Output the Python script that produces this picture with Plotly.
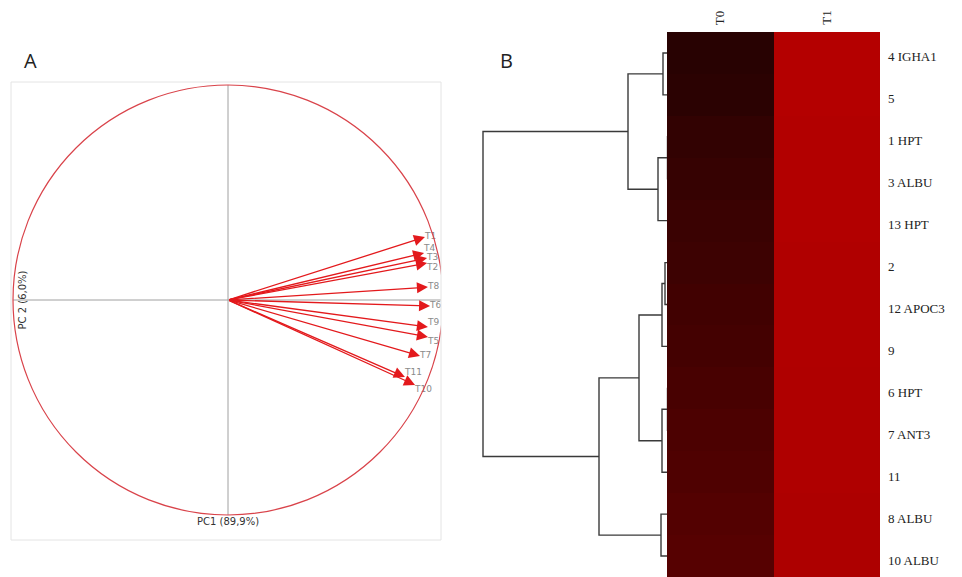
import plotly.graph_objects as go

# ---------------- Panel A data (PCA correlation circle) ----------------
var_names = ["T1", "T4", "T3", "T2", "T8", "T6", "T9", "T5", "T7", "T11", "T10"]
pc1_load = [0.916, 0.912, 0.926, 0.926, 0.930, 0.940, 0.930, 0.930, 0.893, 0.823, 0.870]
pc2_load = [0.293, 0.219, 0.195, 0.172, 0.060, -0.028, -0.126, -0.172, -0.260, -0.358, -0.395]
label_pos = ["middle right", "top right", "middle right", "bottom right", "middle right",
             "middle right", "top right", "bottom right", "middle right", "top right", "bottom right"]
pc1_label = "PC1 (89,9%)"
pc2_label = "PC 2 (6,0%)"

# ---------------- Panel B data (heatmap + dendrogram) ----------------
row_labels = ["4 IGHA1", "5", "1 HPT", "3 ALBU", "13 HPT", "2", "12 APOC3", "9",
              "6 HPT", "7 ANT3", "11", "8 ALBU", "10 ALBU"]
col_labels = ["T0", "T1"]
t0_values = [0.12, 0.14, 0.18, 0.20, 0.22, 0.24, 0.26, 0.28, 0.30, 0.32, 0.34, 0.36, 0.38]
t1_values = [0.90, 0.90, 0.89, 0.89, 0.89, 0.88, 0.88, 0.88, 0.87, 0.87, 0.87, 0.86, 0.86]
# linkage: (left node, right node, merge height); leaves are 0..12, new nodes 13..
linkage = [(0, 1, 5), (2, 3, 0.5), (14, 4, 10), (13, 15, 40),
           (5, 6, 3), (17, 7, 6), (8, 9, 0.5), (19, 10, 6), (18, 20, 29),
           (11, 12, 7), (21, 22, 69), (16, 23, 185)]

W, H = 962, 577
def px(x): return x / W
def py(y): return 1 - y / H

fig = go.Figure()

# ---- Panel A ----
R = 215.0
for i, name in enumerate(var_names):
    fig.add_annotation(x=pc1_load[i], y=pc2_load[i], ax=0, ay=0, xref="x", yref="y",
                       axref="x", ayref="y", text="", showarrow=True,
                       arrowhead=2, arrowsize=1.7, arrowwidth=1.3, arrowcolor="#e3191c")
fig.add_trace(go.Scatter(x=pc1_load, y=pc2_load, mode="text", text=var_names,
                         textposition=label_pos,
                         textfont=dict(size=9, color="#8a8a8a", family="DejaVu Sans"),
                         xaxis="x", yaxis="y", hoverinfo="skip", showlegend=False))
# axes through origin
fig.add_shape(type="line", x0=-1, x1=1, y0=0, y1=0, xref="x", yref="y",
              line=dict(color="#a0a0a0", width=1))
fig.add_shape(type="line", x0=0, x1=0, y0=-1, y1=1, xref="x", yref="y",
              line=dict(color="#a0a0a0", width=1))
fig.add_shape(type="circle", x0=-1, x1=1, y0=-1, y1=1, xref="x", yref="y",
              line=dict(color="#d9434a", width=1.2))
# panel box
fig.add_shape(type="rect", x0=px(11), x1=px(441), y0=py(540), y1=py(82), xref="paper", yref="paper",
              line=dict(color="#e4e4e4", width=1))
fig.add_annotation(x=0, y=-1.0, xref="x", yref="y", text=pc1_label, showarrow=False,
                   yanchor="top", yshift=1, font=dict(size=10, color="#333", family="DejaVu Sans"))
fig.add_annotation(x=-1.0, y=0, xref="x", yref="y", text=pc2_label, showarrow=False,
                   textangle=-90, xanchor="left", xshift=1,
                   font=dict(size=10, color="#333", family="DejaVu Sans"))

# ---- Panel B: heatmap ----
fig.add_trace(go.Heatmap(z=[[a, b] for a, b in zip(t0_values, t1_values)],
                         x=[0, 1], y=list(range(len(row_labels))),
                         colorscale=[[0, "rgb(18,2,2)"], [1, "rgb(198,0,0)"]],
                         zmin=0, zmax=1, showscale=False, xaxis="x3", yaxis="y2",
                         hoverinfo="skip"))
for j, c in enumerate(col_labels):
    fig.add_annotation(x=j, y=py(18), xref="x3", yref="paper", text=c, showarrow=False,
                       textangle=-90, xanchor="center", yanchor="middle",
                       font=dict(size=13, color="#222", family="Liberation Serif"))
for i, lab in enumerate(row_labels):
    fig.add_annotation(x=px(886), y=i, xref="paper", yref="y2", text=lab, showarrow=False,
                       xanchor="left", yanchor="middle", yshift=-4,
                       font=dict(size=13, color="#222", family="Liberation Serif"))

# ---- Panel B: dendrogram ----
node_y = {i: float(i) for i in range(len(row_labels))}
node_h = {i: 0.0 for i in range(len(row_labels))}
dx, dy = [], []
for k, (a, b, h) in enumerate(linkage):
    n = len(row_labels) + k
    dx += [node_h[a], h, h, node_h[b], None]
    dy += [node_y[a], node_y[a], node_y[b], node_y[b], None]
    node_y[n] = (node_y[a] + node_y[b]) / 2
    node_h[n] = h
fig.add_trace(go.Scatter(x=dx, y=dy, mode="lines", line=dict(color="#3a3a3a", width=1.4),
                         xaxis="x2", yaxis="y2", hoverinfo="skip", showlegend=False))

# panel letters
fig.add_annotation(x=px(30), y=py(60), xref="paper", yref="paper", text="A", showarrow=False,
                   xanchor="center", yanchor="middle",
                   font=dict(size=20, color="#222", family="Open Sans"))
fig.add_annotation(x=px(507), y=py(60), xref="paper", yref="paper", text="B", showarrow=False,
                   xanchor="center", yanchor="middle",
                   font=dict(size=20, color="#222", family="Open Sans"))

hidden = dict(visible=False, showgrid=False, zeroline=False, fixedrange=True)
fig.update_layout(
    width=W, height=H, margin=dict(l=0, r=0, t=0, b=0),
    paper_bgcolor="white", plot_bgcolor="white", showlegend=False,
    xaxis=dict(domain=[px(11), px(441)], range=[-217 / R, 213 / R], anchor="y", **hidden),
    yaxis=dict(domain=[py(540), py(82)], range=[-240 / R, 218 / R], anchor="x", **hidden),
    xaxis2=dict(domain=[px(470), px(668)], range=[198, 0], anchor="y2", **hidden),
    xaxis3=dict(domain=[px(667), px(880)], range=[-0.5, 1.5], anchor="y2", **hidden),
    yaxis2=dict(domain=[0, py(32)], range=[12.5, -0.5], anchor="x3", **hidden),
)
fig.write_html("out.html", config={"displayModeBar": False},
               post_script="document.body.style.margin='0px';document.body.style.overflow='hidden';")
